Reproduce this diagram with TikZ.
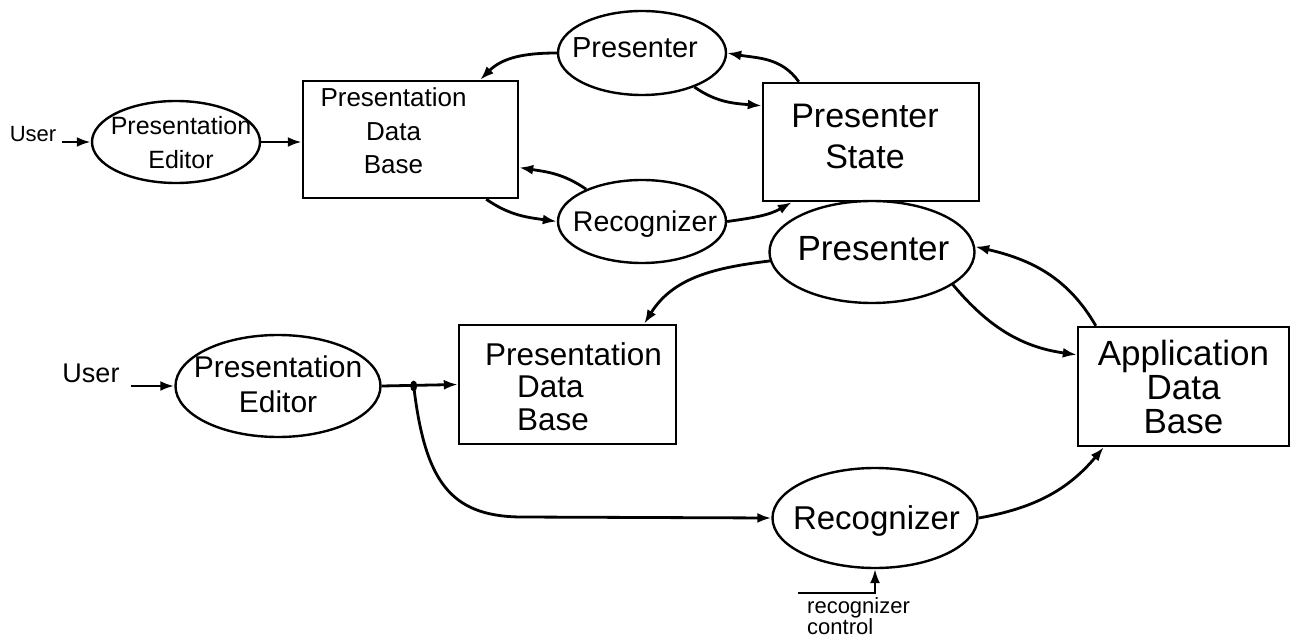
\documentclass[tikz,border=0pt]{standalone}
\usepackage{fontspec}
\newfontfamily\hand{Liberation Sans}
\usetikzlibrary{shapes.geometric,arrows.meta}
% zero-size text block: #1 column alignment, #2 x offset, #3 y offset, #4 lines
\newcommand\zt[4]{\raisebox{\dimexpr#3-0.25em\relax}[0pt][0pt]{\makebox[0pt]{\kern#2\relax\begin{tabular}{@{}#1@{}}#4\end{tabular}\kern-#2\relax}}}
\begin{document}
\begin{tikzpicture}[x=1pt,y=1pt,
  ell/.style={draw, ellipse, line width=2.4pt, inner sep=0pt},
  box/.style={draw, rectangle, line width=2.4pt, inner sep=0pt},
  arr/.style={line width=2.8pt, -{Latex[length=14pt,width=10pt]}},
  fs/.style n args={2}{font=\hand\fontsize{#1}{#2}\selectfont},
]
\useasboundingbox[fill=white] (0,0) rectangle (1291,641);

% ---------- upper diagram ----------
\node[fs={22}{26}, inner sep=2pt] (userT) at (33,507) {User};
\node[ell, fs={25}{34}, minimum width=168pt, minimum height=82pt] (peT) at (176,499)
  {\zt{c}{5pt}{-3pt}{Presentation\\Editor}};
\node[box, fs={26}{33.5}, minimum width=215pt, minimum height=117pt] (pdbT) at (410.5,501.5)
  {\zt{c}{-17pt}{6pt}{Presentation\\Data\\Base}};
\node[ell, fs={29}{34}, minimum width=168pt, minimum height=84pt] (presT) at (642,588)
  {\zt{c}{-7pt}{3pt}{Presenter}};
\node[box, fs={34}{41}, minimum width=216pt, minimum height=118pt] (stateT) at (871,499)
  {\zt{c}{-6pt}{4.5pt}{Presenter\\State}};
\node[ell, fs={28.5}{34}, minimum width=168pt, minimum height=83pt] (recT) at (642,419.5)
  {\zt{c}{3pt}{-2pt}{Recognizer}};

\draw[arr] ([xshift=4pt]userT.east |- peT.west) -- (peT.west);
\draw[arr] (peT.east) -- (pdbT.west |- peT.east);
\draw[arr] (presT.west) to[out=180,in=45] ([xshift=-39pt]pdbT.north east);
\draw[arr] (presT.-33) to[out=-35,in=175] ([yshift=-24pt]stateT.north west);
\draw[arr] ([xshift=37pt]stateT.north west) to[out=125,in=-10] (presT.east);
\draw[arr] (recT.150) to[out=145,in=-9] ([yshift=-28pt]pdbT.east);
\draw[arr] ([xshift=-33pt]pdbT.south east) to[out=-35,in=172] (recT.west);
\draw[arr] (recT.east) to[out=8,in=-150] ([xshift=30pt]stateT.south west);

% ---------- lower diagram ----------
\node[fs={27}{32}, inner sep=2pt] (userB) at (91,268) {User};
\node[ell, fs={30}{35}, minimum width=205pt, minimum height=102pt] (peB) at (278,255)
  {\zt{c}{0pt}{-1pt}{Presentation\\Editor}};
\node[box, fs={31.5}{32.5}, minimum width=217pt, minimum height=119pt] (pdbB) at (567.5,256.5)
  {\zt{l}{6pt}{-5pt}{Presentation\\\hspace*{32pt}Data\\\hspace*{32pt}Base}};
\node[ell, fs={35}{40}, minimum width=205pt, minimum height=102pt] (presB) at (872,389)
  {\zt{c}{1.5pt}{2pt}{Presenter}};
\node[box, fs={35}{33}, minimum width=211pt, minimum height=119pt] (adb) at (1183.5,254.5)
  {\zt{c}{0pt}{-3pt}{Application\\Data\\Base}};
\node[ell, fs={33}{38}, minimum width=205pt, minimum height=100pt] (recB) at (875,123)
  {\zt{c}{1.5pt}{-2pt}{Recognizer}};
\node[fs={22}{18}, anchor=north west, align=left, inner sep=0pt] (rcT) at (807,44)
  {recognizer\\control};

\coordinate (j) at ([xshift=32pt]peB.east);
\coordinate (k) at (520,124);
\coordinate (rc) at (798,48);

\draw[arr] ([xshift=9pt]userB.east |- peB.west) -- (peB.west);
\draw[arr] (peB.east) -- (pdbB.west);
\fill (j) ellipse (3.5pt and 5.5pt);
\draw[arr] (j) .. controls (425,160) and (450,125) .. (k) -- (recB.west);
\draw[arr] (presB.185) to[out=187,in=58] ([xshift=-33pt]pdbB.north east);
\draw[arr] (presB.-22) to[out=-50,in=172] ([yshift=-29pt]adb.north west);
\draw[arr] ([xshift=19pt]adb.north west) to[out=120,in=-13] (presB.3);
\draw[arr] (recB.east) to[out=10,in=-130] ([xshift=27pt]adb.south west);
\draw[arr, line width=2.2pt] (rc) -| (recB.south);
\end{tikzpicture}
\end{document}
